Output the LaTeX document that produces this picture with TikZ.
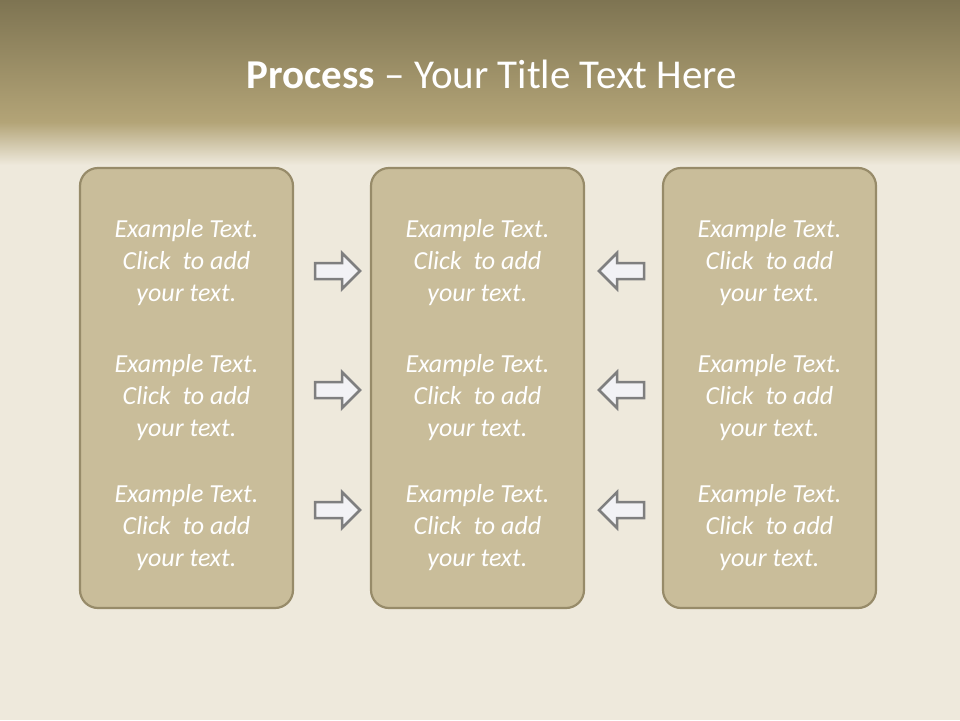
\documentclass[tikz,border=0pt]{standalone}
\usepackage{fontspec}
\setmainfont{Carlito}
\definecolor{topdark}{HTML}{7E7452}
\definecolor{topmid}{HTML}{B3A477}
\definecolor{cream}{HTML}{EEE9DC}
\definecolor{panelfill}{HTML}{C9BD9A}
\definecolor{panelline}{HTML}{978B69}
\definecolor{arrowfill}{HTML}{F2F2F5}
\definecolor{arrowline}{HTML}{7F7F7F}
\begin{document}
\begin{tikzpicture}[x=1pt,y=-1pt,
  bodytext/.style={font=\fontsize{26}{32}\selectfont\itshape, align=center, text=white},
  panel/.style={draw=panelline, line width=2.2pt, fill=panelfill, rounded corners=18pt},
  arr/.style={draw=arrowline, line width=2.5pt, fill=arrowfill, line join=miter}]
\useasboundingbox (0,0) rectangle (960,720);
\fill[cream] (0,0) rectangle (960,720);
\shade[top color=topdark, bottom color=topmid] (0,0) rectangle (960,122);
\shade[top color=topmid, bottom color=cream] (0,122) rectangle (960,165);
\node[font=\fontsize{41}{44}\selectfont, text=white, anchor=base] (title) at (492,88) {\textbf{Process} – Your Title Text Here};
% panels
\foreach \n/\x in {L/80, M/371, R/663}{
  \draw[panel] (\x,168) rectangle ++(213,440);
}
\foreach \n/\cx in {L/186.5, M/477.5, R/769.5}{
  \foreach \r/\cy in {1/263, 2/398, 3/528}{
    \node[bodytext] (t\n\r) at (\cx,\cy) {Example Text.\\Click~ to add\\your text.};
  }
}
% arrows
\foreach \cy in {271, 390, 510}{
  \draw[arr] (315,\cy-8) -- (342,\cy-8) -- (342,\cy-18) -- (360,\cy) -- (342,\cy+18) -- (342,\cy+8) -- (315,\cy+8) -- cycle;
  \draw[arr] (644,\cy-8) -- (617,\cy-8) -- (617,\cy-18) -- (599,\cy) -- (617,\cy+18) -- (617,\cy+8) -- (644,\cy+8) -- cycle;
}
\end{tikzpicture}
\end{document}
